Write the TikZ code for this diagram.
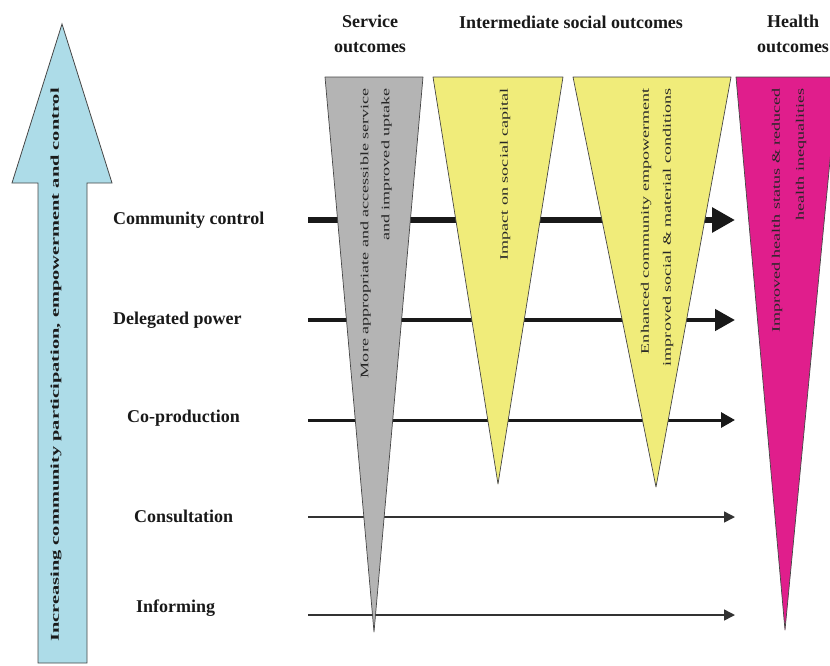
\documentclass[tikz,border=0pt]{standalone}
\usepackage{fontspec}
\setmainfont{Liberation Serif}
\usetikzlibrary{arrows.meta}
\definecolor{skyfill}{RGB}{173,220,232}
\definecolor{grayfill}{RGB}{180,180,180}
\definecolor{yelfill}{RGB}{240,236,122}
\definecolor{magfill}{RGB}{224,30,140}
\definecolor{edgecol}{RGB}{70,70,70}
\definecolor{inkcol}{RGB}{25,25,25}
\begin{document}
\begin{tikzpicture}[x=1pt,y=-1pt,
  levellabel/.style={font=\fontsize{18}{22}\selectfont\bfseries, text=inkcol, inner sep=0pt, anchor=west},
  headlabel/.style={font=\fontsize{18}{25}\selectfont\bfseries, text=inkcol, align=center, inner sep=0pt},
  wedgetext/.style={font=\fontsize{11.5}{#1}\selectfont, text=black!85, rotate=90, xscale=1.57, align=right, inner sep=0pt, anchor=east},
  wedge/.style={draw=edgecol, line width=0.7pt, line join=round},
  flowline/.style={draw=inkcol, line width=#1},
]
\useasboundingbox (0,0) rectangle (830,665);

% big vertical arrow
\draw[fill=skyfill, draw=edgecol, line width=0.8pt, line join=miter]
  (38,663) -- (38,183) -- (12,183) -- (62,24) -- (112,183) -- (87,183) -- (87,663) -- cycle;
\node[font=\fontsize{12}{14}\selectfont\bfseries, text=inkcol, rotate=90, xscale=1.70, inner sep=0pt, anchor=west]
  (axis) at (56,642) {Increasing community participation, empowerment and control};

% level labels
\node[levellabel] (cc)  at (113,220) {Community control};
\node[levellabel] (dp)  at (113,320) {Delegated power};
\node[levellabel] (cp)  at (127,418) {Co-production};
\node[levellabel] (cs)  at (134,516) {Consultation};
\node[levellabel] (inf) at (136,608) {Informing};

% headers
\node[headlabel] (hs) at (370,34) {Service\\outcomes};
\node[headlabel] (hi) at (571,22) {Intermediate social outcomes};
\node[headlabel] (hh) at (793,34) {Health\\outcomes};

% arrow end points
\coordinate (s1) at (308,220); \coordinate (e1) at (735,220);
\coordinate (s2) at (308,320); \coordinate (e2) at (735,320);
\coordinate (s3) at (308,420); \coordinate (e3) at (735,420);
\coordinate (s4) at (308,517); \coordinate (e4) at (735,517);
\coordinate (s5) at (308,615); \coordinate (e5) at (735,615);

\draw[flowline=6pt, -{Triangle[length=23pt,width=24pt]}] (s1) -- (e1);
\draw[flowline=4.5pt, -{Triangle[length=20pt,width=21pt]}] (s2) -- (e2);
\draw[flowline=3pt, -{Triangle[length=14pt,width=15pt]}] (s3) -- (e3);
\draw[flowline=1.5pt, draw=black!80, -{Triangle[length=11pt,width=11pt]}] (s4) -- (e4);
\draw[flowline=1.5pt, draw=black!80, -{Triangle[length=11pt,width=11pt]}] (s5) -- (e5);

% wedges
\draw[wedge, fill=grayfill] (325,77) -- (423,77) -- (374,632) -- cycle;
\draw[wedge, fill=yelfill] (433,77) -- (563,77) -- (498,484) -- cycle;
\draw[wedge, fill=yelfill] (573,77) -- (731,77) -- (656,487) -- cycle;
\draw[wedge, fill=magfill] (736,77) -- (838,77) -- (785,630) -- cycle;

% wedge texts
\node[wedgetext=21] (tg) at (376,88) {More appropriate and accessible service\\and improved uptake};
\node[wedgetext=21] (ty1) at (505,88) {Impact on social capital};
\node[wedgetext=22] (ty2) at (657,88) {Enhanced community empowerment\\improved social \& material conditions};
\node[wedgetext=24] (tm) at (789,88) {Improved health status \& reduced\\health inequalities};
\end{tikzpicture}
\end{document}
